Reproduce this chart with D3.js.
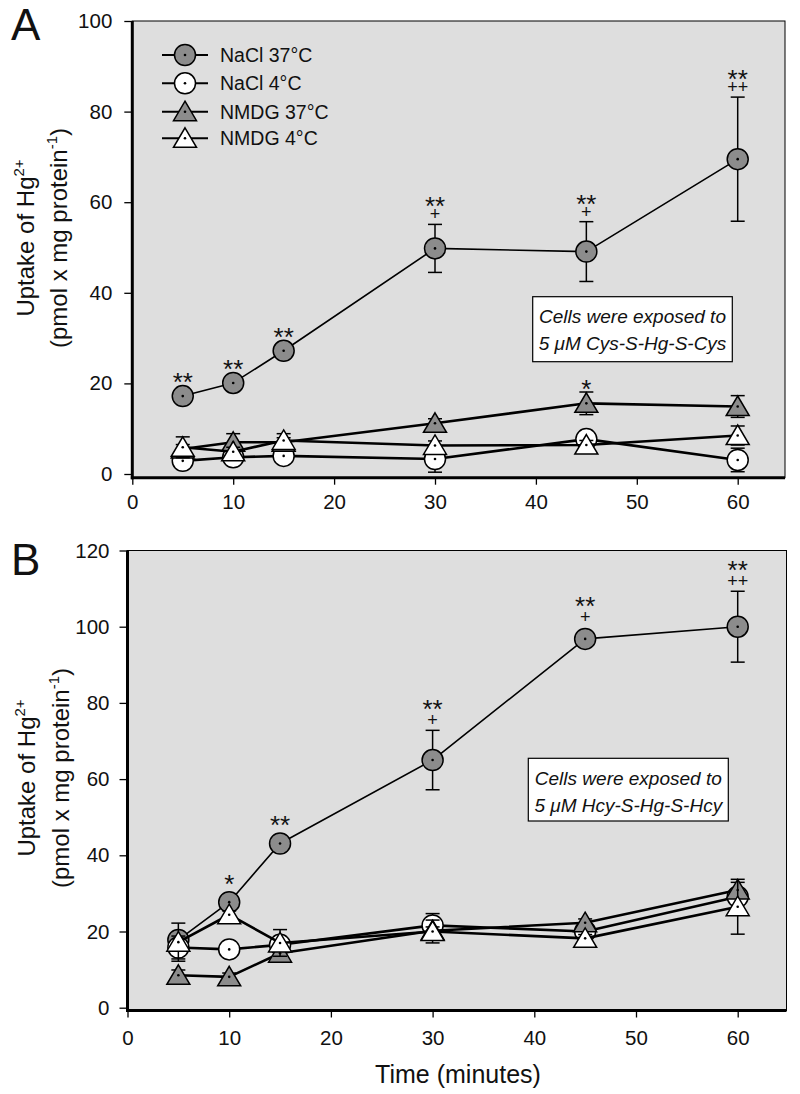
<!DOCTYPE html>
<html><head><meta charset="utf-8">
<script src="https://cdn.jsdelivr.net/npm/d3@7"></script>
<style>body{margin:0;background:#fff} svg{display:block} text{font-family:"Liberation Sans",Arial,Helvetica,sans-serif;fill:#111}</style>
</head><body><svg id="c" width="800" height="1094"></svg>
<script>
// ---------- data ----------
const times = [5, 10, 15, 30, 45, 60];
const seriesNames = ["NaCl 37°C", "NaCl 4°C", "NMDG 37°C", "NMDG 4°C"];
const seriesShapes = ["circle", "circle", "triangle", "triangle"];
const seriesFills = ["#8c8c8c", "#ffffff", "#8c8c8c", "#ffffff"];

// Panel A : Cys-S-Hg-S-Cys
const aNaCl37 = [17.2, 20.1, 27.2, 49.8, 49.1, 69.5];
const aNaCl37Err = [1.0, 1.0, 1.0, 5.3, 6.6, 13.7];
const aNaCl4 = [2.9, 3.7, 4.0, 3.3, 7.7, 3.1];
const aNaCl4Err = [1.0, 1.0, 1.0, 2.9, 1.0, 2.6];
const aNMDG37 = [5.5, 7.0, 7.0, 11.2, 15.6, 14.9];
const aNMDG37Err = [1.0, 1.9, 1.0, 1.0, 2.5, 2.4];
const aNMDG4 = [5.9, 4.9, 7.4, 6.3, 6.4, 8.5];
const aNMDG4Err = [2.3, 1.0, 1.5, 1.0, 1.0, 2.1];
const aStarsNaCl37 = ["**", "**", "**", "**", "**", "**"];
const aPlusNaCl37 = ["", "", "", "+", "+", "++"];
const aStarsNMDG37 = ["", "", "", "", "*", ""];
const aNote = ["Cells were exposed to", "5 \u03bcM Cys-S-Hg-S-Cys"];
const aYTicks = [0, 20, 40, 60, 80, 100];

// Panel B : Hcy-S-Hg-S-Hcy
const bNaCl37 = [17.8, 27.7, 43.1, 65.0, 96.8, 100.0];
const bNaCl37Err = [1.0, 1.0, 1.0, 7.8, 1.0, 9.3];
const bNaCl4 = [15.8, 15.3, 16.5, 21.6, 20.0, 29.1];
const bNaCl4Err = [3.0, 1.0, 1.0, 3.1, 1.0, 1.5];
const bNMDG37 = [8.5, 8.1, 14.3, 20.2, 22.3, 30.9];
const bNMDG37Err = [1.4, 1.0, 2.0, 1.0, 1.0, 2.0];
const bNMDG4 = [17.2, 24.4, 17.0, 20.0, 18.2, 26.5];
const bNMDG4Err = [5.0, 1.0, 3.5, 3.0, 1.0, 7.2];
const bStarsNaCl37 = ["", "*", "**", "**", "**", "**"];
const bPlusNaCl37 = ["", "", "", "+", "+", "++"];
const bNote = ["Cells were exposed to", "5 \u03bcM Hcy-S-Hg-S-Hcy"];
const bYTicks = [0, 20, 40, 60, 80, 100, 120];

const xTicks = [0, 10, 20, 30, 40, 50, 60];
const xTitle = "Time (minutes)";

// ---------- layout ----------
const BG = "#dedede";
const svg = d3.select("#c");

const panels = [
  { label: "A", labelY: 40,
    series: [[aNaCl37, aNaCl37Err], [aNaCl4, aNaCl4Err], [aNMDG37, aNMDG37Err], [aNMDG4, aNMDG4Err]],
    stars: [aStarsNaCl37, null, aStarsNMDG37, null], plus: [aPlusNaCl37, null, null, null],
    yTicks: aYTicks, yMax: 100, yr: [474, 21], xr: [132.3, 737.7], right: 785, bottom: 477.7,
    yPad: 12, xLabelY: 501.5, starGap: 8.5, plusGap: 10, starAbovePlus: 13.5,
    note: aNote, noteBox: [532.7, 296.7, 199.6, 65], titleY: 238, titleX: [33.5, 67], legend: true },
  { label: "B", labelY: 575,
    series: [[bNaCl37, bNaCl37Err], [bNaCl4, bNaCl4Err], [bNMDG37, bNMDG37Err], [bNMDG4, bNMDG4Err]],
    stars: [bStarsNaCl37, null, null, null], plus: [bPlusNaCl37, null, null, null],
    yTicks: bYTicks, yMax: 120, yr: [1007.7, 550.5], xr: [127.5, 737.7], right: 786.5, bottom: 1010.5,
    yPad: 10, xLabelY: 1037.5, starGap: 12.5, plusGap: 10.5, starAbovePlus: 16.5,
    note: bNote, noteBox: [528.3, 758.3, 200, 62.7], titleY: 778, titleX: [35, 69], legend: false }
];

function marker(g, shape, fill, cx, cy) {
  if (shape === "circle") {
    g.append("circle").attr("cx", cx).attr("cy", cy).attr("r", 10.5)
      .attr("fill", fill).attr("stroke", "#000").attr("stroke-width", 1.5);
  } else {
    g.append("path").attr("d", `M${cx},${cy - 10.5}L${cx + 11.5},${cy + 9}L${cx - 11.5},${cy + 9}Z`)
      .attr("fill", fill).attr("stroke", "#000").attr("stroke-width", 1.5).attr("stroke-linejoin", "miter");
  }
  g.append("circle").attr("cx", cx).attr("cy", cy).attr("r", 1.3).attr("fill", "#000");
}

panels.forEach(p => {
  const x = d3.scaleLinear().domain([0, 60]).range(p.xr);
  const y = d3.scaleLinear().domain([0, p.yMax]).range(p.yr);
  const g = svg.append("g");
  const x0 = x(0), top = y(p.yMax);

  // frame
  g.append("rect").attr("x", x0).attr("y", top).attr("width", p.right - x0).attr("height", p.bottom - top)
    .attr("fill", BG).attr("stroke", "#000").attr("stroke-width", 1);

  // axes
  const ya = g.append("g").attr("transform", `translate(${x0},0)`)
    .call(d3.axisLeft(y).tickValues(p.yTicks).tickSize(8).tickPadding(p.yPad));
  ya.select(".domain").remove();
  ya.selectAll(".tick line").attr("stroke", "#000").attr("stroke-width", 1.3);
  ya.selectAll("text").attr("font-size", 20.5).attr("fill", "#111")
    .style("font-family", '"Liberation Sans",Arial,sans-serif');

  const xa = g.append("g").attr("transform", `translate(0,${p.bottom})`)
    .call(d3.axisBottom(x).tickValues(xTicks).tickSize(7).tickPadding(0));
  xa.select(".domain").remove();
  xa.selectAll(".tick line").attr("stroke", "#000").attr("stroke-width", 1.3);
  xa.selectAll("text").attr("font-size", 20.5).attr("fill", "#111")
    .attr("y", p.xLabelY - p.bottom).attr("dy", "0.36em")
    .style("font-family", '"Liberation Sans",Arial,sans-serif');

  g.append("line").attr("x1", x0).attr("x2", x0).attr("y1", top).attr("y2", p.bottom + 1.5)
    .attr("stroke", "#000").attr("stroke-width", 3);
  g.append("line").attr("x1", x0 - 1.5).attr("x2", p.right).attr("y1", p.bottom).attr("y2", p.bottom)
    .attr("stroke", "#000").attr("stroke-width", 3);

  // note box
  const nb = p.noteBox;
  g.append("rect").attr("x", nb[0]).attr("y", nb[1]).attr("width", nb[2]).attr("height", nb[3])
    .attr("fill", "#fff").attr("stroke", "#000").attr("stroke-width", 1.2);
  p.note.forEach((t, i) => {
    g.append("text").attr("x", nb[0] + nb[2] / 2).attr("y", nb[1] + 20 + i * 26.6).attr("dy", "0.35em")
      .attr("text-anchor", "middle").attr("font-size", 19).attr("font-style", "italic").text(t);
  });

  // series
  const line = d3.line().x((d, i) => x(times[i])).y(d => y(d));
  p.series.forEach(([vals, errs], s) => {
    const sg = g.append("g");
    sg.append("path").attr("d", line(vals)).attr("fill", "none").attr("stroke", "#000")
      .attr("stroke-width", s === 0 ? 1.6 : 2.6).attr("stroke-linejoin", "round");
    vals.forEach((v, i) => {
      const cx = x(times[i]), e = errs[i];
      const y1 = y(v + e), y2 = y(v - e);
      sg.append("line").attr("x1", cx).attr("x2", cx).attr("y1", y1).attr("y2", y2).attr("stroke", "#000").attr("stroke-width", 1.5);
      [y1, y2].forEach(yy => sg.append("line").attr("x1", cx - 7).attr("x2", cx + 7).attr("y1", yy).attr("y2", yy)
        .attr("stroke", "#000").attr("stroke-width", 1.5));
    });
    vals.forEach((v, i) => marker(sg, seriesShapes[s], seriesFills[s], x(times[i]), y(v)));
  });

  // significance marks (stars and plus signs in one text element)
  p.series.forEach(([vals, errs], s) => {
    const st = p.stars[s], pl = p.plus[s];
    if (!st) return;
    vals.forEach((v, i) => {
      if (!st[i]) return;
      const cx = x(times[i]);
      const base = Math.min(y(v) - 11, y(v + errs[i]));
      const t = g.append("text").attr("text-anchor", "middle");
      if (pl && pl[i]) {
        const plusC = base - p.plusGap;
        const starC = plusC - p.starAbovePlus;
        t.append("tspan").attr("x", cx).attr("y", starC + 14.5).attr("font-size", 26).text(st[i]);
        t.append("tspan").attr("x", cx).attr("y", plusC + 6).attr("font-size", 18).text(pl[i]);
      } else {
        const starC = base - p.starGap;
        t.append("tspan").attr("x", cx).attr("y", starC + 14.5).attr("font-size", 26).text(st[i]);
      }
    });
  });

  // panel label
  svg.append("text").attr("x", 11).attr("y", p.labelY).attr("font-size", 44).text(p.label);

  // y title
  const cy = p.titleY;
  const t1 = svg.append("text").attr("transform", `translate(${p.titleX[0]},${cy}) rotate(-90)`)
    .attr("text-anchor", "middle").attr("font-size", 24);
  t1.append("tspan").text("Uptake of Hg");
  t1.append("tspan").attr("font-size", 15).attr("dy", -10).text("2+");
  const t2 = svg.append("text").attr("transform", `translate(${p.titleX[1]},${cy}) rotate(-90)`)
    .attr("text-anchor", "middle").attr("font-size", 24);
  t2.append("tspan").text("(pmol x mg protein");
  t2.append("tspan").attr("font-size", 15).attr("dy", -10).text("-1");
  t2.append("tspan").attr("dy", 10).text(")");

  // legend
  if (p.legend) {
    const ly = [55, 83.3, 111.7, 138.3];
    seriesNames.forEach((n, s) => {
      const lg = svg.append("g");
      lg.append("line").attr("x1", 162).attr("x2", 208).attr("y1", ly[s]).attr("y2", ly[s])
        .attr("stroke", "#000").attr("stroke-width", 2);
      marker(lg, seriesShapes[s], seriesFills[s], 185, ly[s]);
      lg.append("text").attr("x", 220).attr("y", ly[s]).attr("dy", "0.35em").attr("font-size", 19.5).text(n);
    });
  }
});

// x title
svg.append("text").attr("x", 458).attr("y", 1082.5).attr("text-anchor", "middle").attr("font-size", 25).text(xTitle);
</script>
</body></html>
